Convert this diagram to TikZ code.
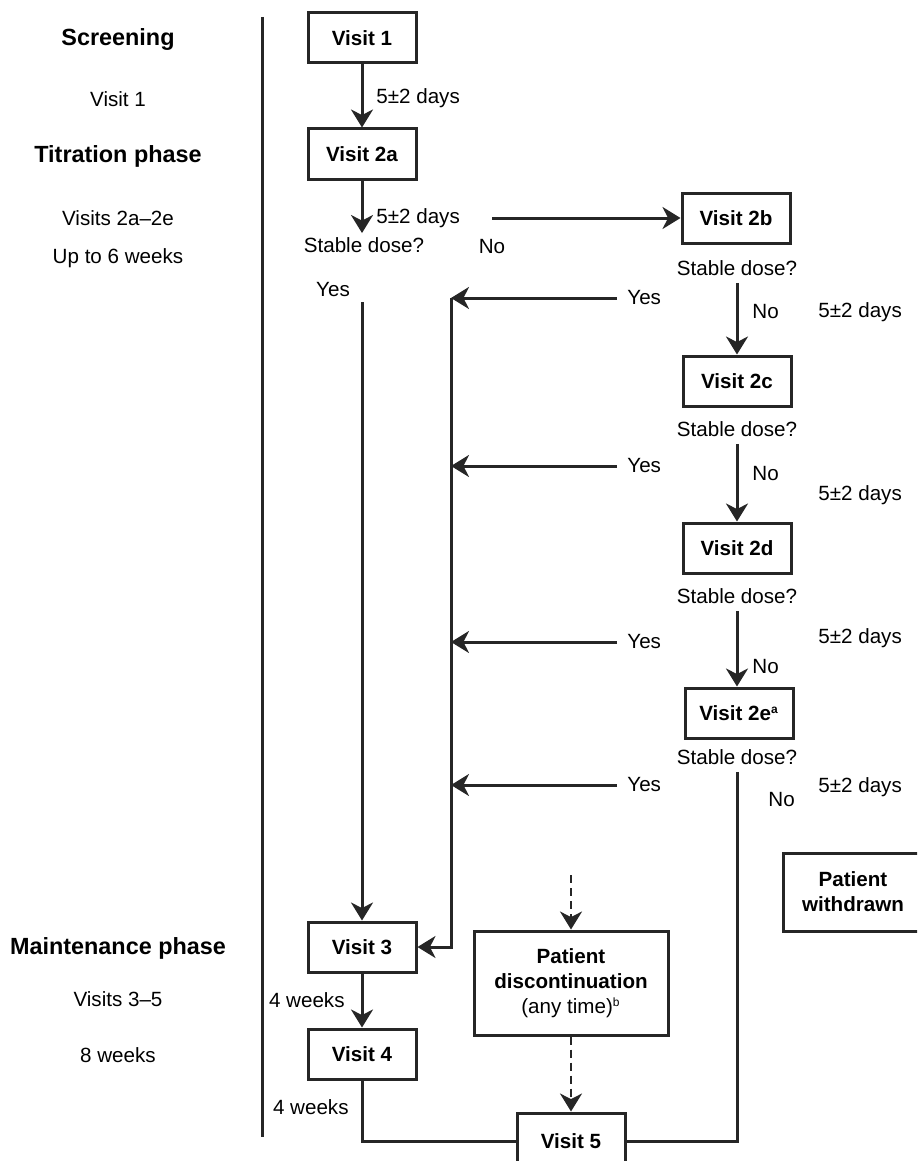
\documentclass[tikz,border=0pt]{standalone}
\usepackage{fontspec}
\setmainfont{Liberation Sans}
\usetikzlibrary{arrows.meta}

\begin{document}
\begin{tikzpicture}[x=0.5pt,y=-0.5pt,
  visit/.style={draw=black!85,line width=1.5pt,minimum width=54pt,minimum height=25pt,inner sep=0pt,align=center,font=\fontsize{10.3}{12.5}\selectfont\bfseries},
  lbl/.style={inner sep=0pt,font=\fontsize{10.3}{12.5}\selectfont},
  head/.style={inner sep=0pt,font=\fontsize{11.7}{14}\selectfont\bfseries},
  link/.style={draw=black!85,line width=1.5pt},
  arr/.style={link,-{Stealth[length=9pt,width=11pt,inset=2.8pt]}},
  dasharr/.style={arr,line width=1.1pt,dash pattern=on 4pt off 2.5pt}]
% Parameters
\def\busX{451}
\def\yesX{627}
\def\daysX{818}
\newcommand\note[1]{\textsuperscript{\fontsize{6}{6}\selectfont #1}}

\useasboundingbox (0,0) rectangle (917,1161);
\clip (0,0) rectangle (917,1161);

% Phases
\node[head] (scr) at (118,40) {Screening};
\node[lbl] (scrv) at (118,99) {Visit 1};
\node[head] (tit) at (118,156) {Titration phase};
\node[lbl] (titv) at (118,218) {Visits 2a–2e};
\node[lbl] (titw) at (118,258) {Up to 6 weeks};
\node[head] (mnt) at (118,948) {Maintenance phase};
\node[lbl] (mntv) at (118,999) {Visits 3–5};
\node[lbl] (mntw) at (118,1055) {8 weeks};
\coordinate (divtop) at (262,17);
\coordinate (divbot) at (262,1137);
\draw[link] (divtop) -- (divbot);

% Visits
\node[visit] (v1) at (362,38) {Visit 1};
\node[visit] (v2a) at (362,154) {Visit 2a};
\node[lbl] (sd2a) at (364,245) {Stable dose?};
\node[visit] (v2b) at (736,218) {Visit 2b};
\node[lbl] (sd2b) at (737,268) {Stable dose?};
\node[visit] (v2c) at (737,381) {Visit 2c};
\node[lbl] (sd2c) at (737,429) {Stable dose?};
\node[visit] (v2d) at (737,548) {Visit 2d};
\node[lbl] (sd2d) at (737,596) {Stable dose?};
\node[visit] (v2e) at (739,713) {Visit 2e\note{a}};
\node[lbl] (sd2e) at (737,757) {Stable dose?};
\node[visit] (v3) at (362,947) {Visit 3};
\node[visit] (v4) at (362,1054) {Visit 4};
\node[visit,minimum height=28pt] (v5) at (571,1141) {Visit 5};
\node[visit,minimum width=97pt,minimum height=52pt] (disc) at (571,983)
  {Patient\\discontinuation\\{\mdseries (any time)\note{b}}};
\node[visit,minimum width=70pt,minimum height=39pt] (wd) at (853,892) {Patient\\withdrawn};

% Intervals
\node[lbl,anchor=west] (d1) at (376,98) {5±2 days};
\node[lbl,anchor=west] (d2) at (376,218) {5±2 days};
\node[lbl,anchor=west] (d3) at (\daysX,312) {5±2 days};
\node[lbl,anchor=west] (d4) at (\daysX,495) {5±2 days};
\node[lbl,anchor=west] (d5) at (\daysX,638) {5±2 days};
\node[lbl,anchor=west] (d6) at (\daysX,787) {5±2 days};
\node[lbl,anchor=east] (w1) at (345,1000) {4 weeks};
\node[lbl,anchor=east] (w2) at (349,1107) {4 weeks};

% Answers
\node[lbl] (no2a) at (492,247) {No};
\node[lbl] (yes2a) at (333,290) {Yes};
\node[lbl,anchor=west] (no2b) at (752,312) {No};
\node[lbl,anchor=west] (no2c) at (752,474) {No};
\node[lbl,anchor=west] (no2d) at (752,667) {No};
\node[lbl,anchor=west] (no2e) at (768,800) {No};

% Titration flow
\draw[arr] (v1) -- (v2a);
\draw[arr,shorten >=2pt] (v2a.south) -- (v2a.south |- sd2a.north);
\coordinate (noA) at (492,218);
\draw[arr] (noA) -- (v2b.west);
\draw[arr,shorten <=3.5pt] (sd2b.south) -- (v2c.north);
\draw[arr,shorten <=3.5pt] (sd2c.south) -- (v2d.north);
\draw[arr,shorten <=3.5pt] (sd2d.south) -- (v2d.south |- v2e.north);
\draw[link,shorten <=3.5pt] (sd2e.south) |- (v5.east);

% Stable dose reached
\coordinate (yesdown) at (362,302);
\draw[arr] (yesdown) -- (v3.north);
\foreach \n/\y in {b/298,c/466,d/642,e/785}{
  \node[lbl,anchor=west] (yes\n) at (\yesX,\y) {Yes};
  \coordinate (bus\n) at (\busX,\y);
  \draw[arr] ([xshift=-5pt]yes\n.west) -- (bus\n);
}
\draw[arr] (busb) |- (v3.east);

% Maintenance flow
\draw[arr] (v3) -- (v4);
\draw[link] (v4.south) |- (v5.west);
\coordinate (dtop) at (571,875);
\draw[dasharr] (dtop) -- (disc);
\draw[dasharr] (disc) -- (v5);
\end{tikzpicture}
\end{document}
